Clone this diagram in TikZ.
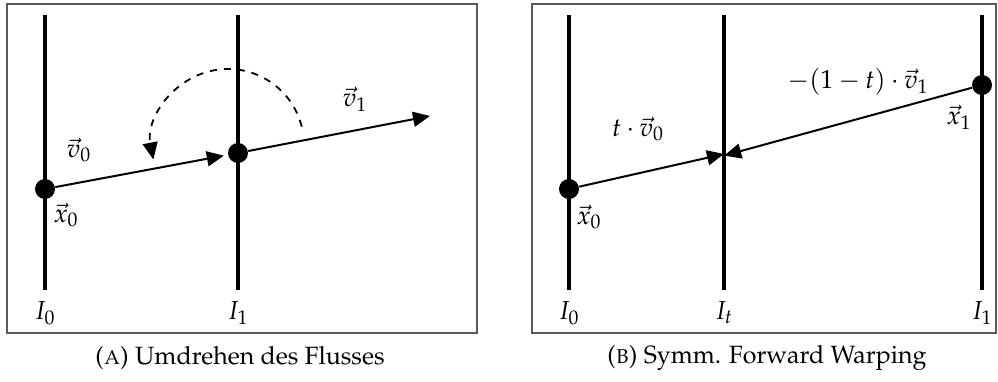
\documentclass[tikz,border=0pt]{standalone}
\usepackage[T1]{fontenc}
\usepackage{mathpazo}
\usetikzlibrary{arrows.meta,positioning,calc}

\begin{document}
\begin{tikzpicture}[
    x=0.5pt, y=0.5pt,
    frame/.style={draw=black!65, line width=0.6pt},
    imgline/.style={line width=2pt},
    point/.style={circle, fill=black, inner sep=0pt, minimum size=10pt},
    vec/.style={line width=1pt, -{Triangle[length=8.5pt, width=7.5pt]}},
    flip/.style={line width=0.9pt, dash pattern=on 3.5pt off 3.5pt, -{Triangle[length=8.5pt, width=7.5pt]}},
    lbl/.style={font=\fontsize{13}{15}\selectfont, inner sep=1pt},
    caption/.style={font=\fontsize{12.5}{15}\selectfont}
]
\useasboundingbox (0,0) rectangle (998,381);

% Frames
\draw[frame] (7,48) rectangle (477,377);
\draw[frame] (532,48) rectangle (996,377);

% (A) image lines
\coordinate (a0top) at (45,366);  \coordinate (a0bot) at (45,91);
\coordinate (a1top) at (238,366); \coordinate (a1bot) at (238,91);
\draw[imgline] (a0top) -- (a0bot);
\draw[imgline] (a1top) -- (a1bot);
\node[lbl] (ia0) at (45,68) {$I_0$};
\node[lbl] (ia1) at (238,68) {$I_1$};

% (A) points and flow
\node[point] (ax0) at (45,192) {};
\node[point] (ax1) at (238,228) {};
\coordinate (av1end) at (430,265);
\draw[vec, shorten >=2pt] (ax0) -- (ax1);
\draw[vec] (ax1) -- (av1end);
\node[lbl] (av0lbl) at (79,231) {$\vec{v}_0$};
\node[lbl] (av1lbl) at (355,282) {$\vec{v}_1$};
\node[lbl] (ax0lbl) at (66,166) {$\vec{x}_0$};

% (A) reversal arc
\coordinate (arcc) at (228,236);
\draw[flip] ([shift={(14:76)}]arcc) arc[start angle=14, end angle=191, radius=76];

\node[caption] (capa) at (240,23) {(\textsc{a}) Umdrehen des Flusses};

% (B) image lines
\coordinate (b0top) at (569,366); \coordinate (b0bot) at (569,91);
\coordinate (bttop) at (724,366); \coordinate (btbot) at (724,91);
\coordinate (b1top) at (982,366); \coordinate (b1bot) at (982,91);
\draw[imgline] (b0top) -- (b0bot);
\draw[imgline] (bttop) -- (btbot);
\draw[imgline] (b1top) -- (b1bot);
\node[lbl] (ib0) at (569,68) {$I_0$};
\node[lbl] (ibt) at (724,68) {$I_t$};
\node[lbl] (ib1) at (982,68) {$I_1$};

% (B) points and warping
\node[point] (bx0) at (569,192) {};
\node[point] (bx1) at (982,296) {};
\coordinate (bmeet) at (724,227);
\draw[vec] (bx0) -- (bmeet);
\draw[vec, shorten >=-3pt] (bx1) -- ([xshift=3pt]bmeet);
\node[lbl] (bv0lbl) at (638,252) {$t\cdot\vec{v}_0$};
\node[lbl] (bv1lbl) at (858,299) {$-(1-t)\cdot\vec{v}_1$};
\node[lbl] (bx0lbl) at (589,164) {$\vec{x}_0$};
\node[lbl] (bx1lbl) at (959,264) {$\vec{x}_1$};

\node[caption] (capb) at (767,23) {(\textsc{b}) Symm. Forward Warping};

\end{tikzpicture}
\end{document}
